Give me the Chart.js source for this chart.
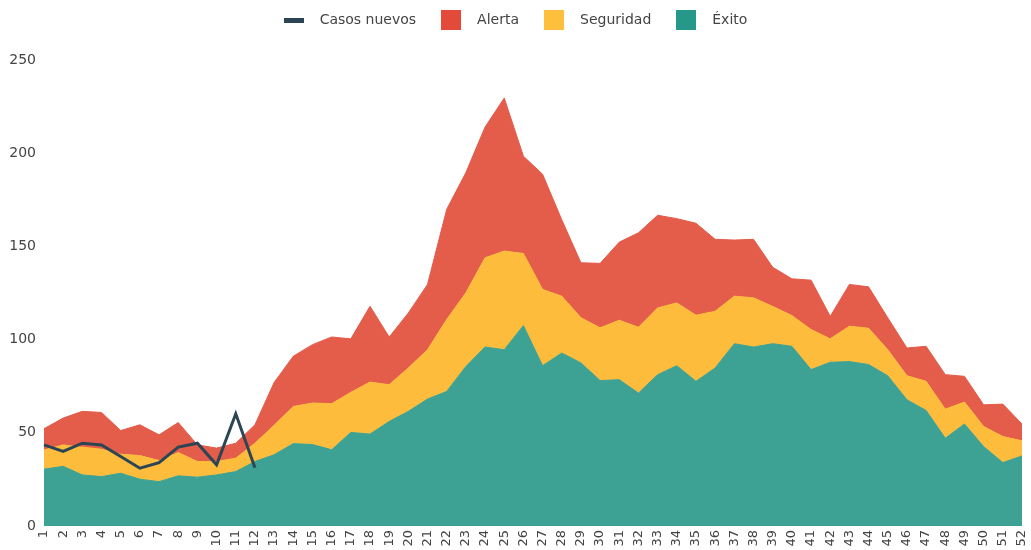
<!DOCTYPE html>
<html lang="es">
<head>
<meta charset="utf-8">
<title>Casos por semana</title>
<script src="https://cdn.jsdelivr.net/npm/chart.js@4.4.1/dist/chart.umd.min.js"></script>
<style>
  html, body { margin: 0; padding: 0; background: #fff; }
  #wrap { position: relative; width: 1031px; height: 550px; }
</style>
</head>
<body>
<div id="wrap"><canvas id="chart"></canvas></div>
<script>
// semanas (eje x)
const weeks = ['1','2','3','4','5','6','7','8','9','10','11','12','13','14','15','16','17','18','19','20',
  '21','22','23','24','25','26','27','28','29','30','31','32','33','34','35','36','37','38','39','40',
  '41','42','43','44','45','46','47','48','49','50','51','52'];

// series apiladas (valor propio de cada capa)
const exito = [30.5,32,27.4,26.5,28.3,25.1,23.8,26.9,26.2,27.4,29.2,34.6,38.2,44.2,43.7,40.9,50.2,49.3,56.1,61.5,
  68.1,72.2,85.6,96,94.6,107.5,86,92.8,87.5,78,78.5,71.3,81.2,86,77.6,84.8,97.8,96,97.8,96.4,
  83.9,87.8,88.2,86.6,80.6,67.7,62,47.1,54.7,42.6,34,37.6];
const seguridad = [10.3,11.5,14.9,14.7,10.2,12.7,11.3,12.5,8.4,7.2,7.2,9.8,15.8,19.9,22.3,24.7,21.5,27.9,19.7,23.3,
  26.5,38.6,39.5,47.9,52.9,38.7,40.9,30.5,24.2,28.3,31.9,35.3,35.8,33.7,35.5,30.4,25.5,26.4,20,16.5,
  21.5,12.6,19,19.5,14,12.9,15.6,15.6,11.8,10.8,14,8.1];
const alerta = [11.4,14.4,19.2,19.7,12.7,16.5,13.8,16.1,8.9,7.2,8,9.9,23,27,31.3,35.8,28.7,40.7,25.6,29.5,
  35,59.1,64.5,70.1,82.1,52.2,61.8,41,29.5,34.6,41.9,50.7,49.7,45.2,49.3,38.6,30.1,31.4,21,19.7,
  26.5,12.1,22.4,22.2,17.1,14.9,18.8,18.5,13.8,11.6,17.4,9];

// línea de casos nuevos (solo primeras semanas)
const casosNuevos = [43.5,40,44.4,43.5,37.3,31,34,42.3,44.4,32.8,60.2,31.3];

const yTicks = [0, 50, 100, 150, 200, 250];

const colors = {
  casos: '#2c4555',
  alerta: '#e45c4a', alertaKey: '#e44a3a',
  seguridad: '#fdbc3c', seguridadKey: '#fec03c',
  exito: '#3da193', exitoKey: '#26988a'
};

Chart.defaults.font.family = "'DejaVu Sans', Verdana, sans-serif";
Chart.defaults.color = '#444';

// legend swatches as small canvases
function swatch(color, w, h) {
  const c = document.createElement('canvas');
  c.width = w; c.height = h;
  const g = c.getContext('2d');
  g.fillStyle = color;
  g.fillRect(0, 0, w, h);
  return c;
}
const keyImg = {
  'Casos nuevos': swatch(colors.casos, 20, 5),
  'Alerta': swatch(colors.alertaKey, 20, 20),
  'Seguridad': swatch(colors.seguridadKey, 20, 20),
  'Éxito': swatch(colors.exitoKey, 20, 20)
};
const legendOrder = ['Casos nuevos', 'Alerta', 'Seguridad', 'Éxito'];

// give the legend a fixed height so the plot starts where it should
const legendHeight = {
  id: 'legendHeight',
  beforeInit(chart) {
    const fit = chart.legend.fit;
    chart.legend.fit = function () {
      fit.call(this);
      this.height = 63;
    };
  }
};

const ctx = document.getElementById('chart');
new Chart(ctx, {
  type: 'line',
  data: {
    labels: weeks,
    datasets: [
      { label: 'Éxito', data: exito, stack: 'areas', fill: 'origin',
        backgroundColor: colors.exito, borderColor: colors.exito, borderWidth: 1 },
      { label: 'Seguridad', data: seguridad, stack: 'areas', fill: '-1',
        backgroundColor: colors.seguridad, borderColor: colors.seguridad, borderWidth: 1 },
      { label: 'Alerta', data: alerta, stack: 'areas', fill: '-1',
        backgroundColor: colors.alerta, borderColor: colors.alerta, borderWidth: 1 },
      { label: 'Casos nuevos', data: casosNuevos, stack: 'casos', fill: false, order: -1,
        borderColor: colors.casos, backgroundColor: colors.casos, borderWidth: 3 }
    ]
  },
  options: {
    responsive: true,
    maintainAspectRatio: false,
    animation: false,
    elements: { point: { radius: 0, hoverRadius: 0 }, line: { tension: 0 } },
    layout: { padding: { top: -3, right: 9, bottom: 0, left: 0 } },
    scales: {
      x: {
        offset: false,
        grid: { display: false, drawTicks: false },
        border: { display: false },
        ticks: { autoSkip: false, minRotation: 90, maxRotation: 90, padding: 4,
          font: { size: 13 }, color: '#444' },
        afterFit(scale) {
          scale.height = 24;
          scale.paddingLeft = 0;
          scale.paddingRight = 0;
        }
      },
      y: {
        stacked: true,
        min: 0, max: 250,
        grid: { display: false, drawTicks: false },
        border: { display: false },
        ticks: { padding: 8, font: { size: 14 }, color: '#444' },
        afterBuildTicks(scale) { scale.ticks = yTicks.map(v => ({ value: v })); },
        afterFit(scale) { scale.width = 44; }
      }
    },
    plugins: {
      tooltip: { enabled: false },
      legend: {
        position: 'top',
        labels: {
          usePointStyle: true,
          pointStyleWidth: 38,
          padding: 16,
          font: { size: 14 },
          color: '#444',
          generateLabels(chart) {
            const items = Chart.defaults.plugins.legend.labels.generateLabels(chart);
            items.forEach(it => { it.pointStyle = keyImg[it.text]; it.lineWidth = 0; });
            items.sort((a, b) => legendOrder.indexOf(a.text) - legendOrder.indexOf(b.text));
            return items;
          }
        }
      }
    }
  },
  plugins: [legendHeight]
});
</script>
</body>
</html>
